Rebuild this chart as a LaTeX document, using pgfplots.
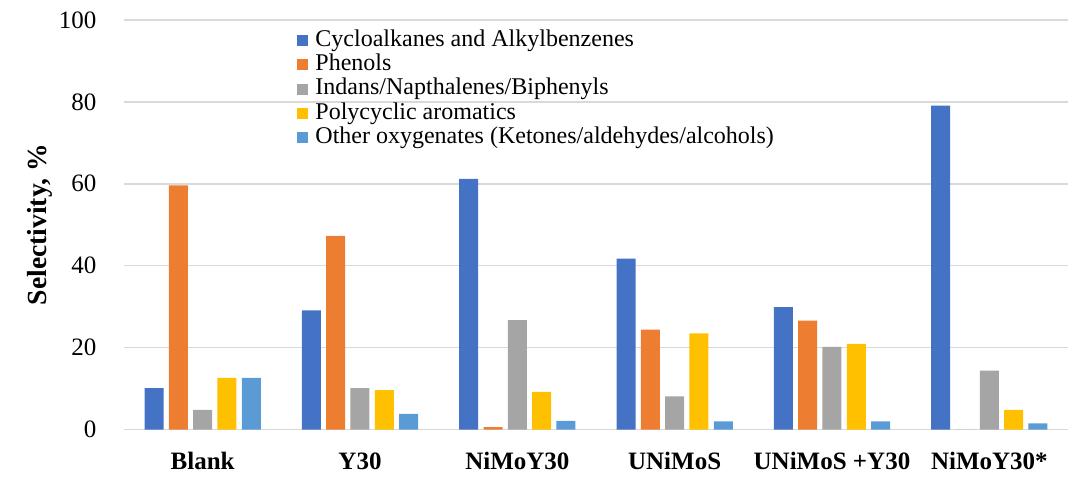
\documentclass[border=0pt]{standalone}
\usepackage{fontspec}
\setmainfont{Liberation Serif}
\usepackage{pgfplots}
\pgfplotsset{compat=1.18}

\definecolor{cBlue}{HTML}{4472C4}
\definecolor{cOrange}{HTML}{ED7D31}
\definecolor{cGray}{HTML}{A5A5A5}
\definecolor{cYellow}{HTML}{FFC000}
\definecolor{cLight}{HTML}{5B9BD5}
\definecolor{gridc}{HTML}{D9D9D9}

\begin{document}
\begin{tikzpicture}
\path[use as bounding box] (-62pt,-25.75pt) rectangle (478pt,214.75pt);
\begin{axis}[
	scale only axis,
	width=472pt, height=204.75pt,
	ybar=2.65pt, bar width=9.5pt,
	xmin=-0.5, xmax=5.5,
	ymin=0, ymax=100,
	xtick={0,1,2,3,4,5},
	xticklabels={Blank, Y30, NiMoY30, UNiMoS, UNiMoS +Y30, NiMoY30*},
	ytick={0,20,40,60,80,100},
	axis line style={draw=none},
	major tick length=0pt,
	tick style={draw=none},
	ymajorgrids, xmajorgrids=false,
	grid style={gridc, line width=0.75pt},
	/pgf/number format/assume math mode=true,
	tick label style={font=\fontsize{12.5}{15}\selectfont},
	yticklabel style={xshift=-10.3pt},
	xticklabel style={font=\fontsize{12.5}{15}\selectfont\bfseries, anchor=base, yshift=-19.75pt},
	ylabel={Selectivity, \%},
	ylabel style={at={(axis description cs:-0.089,0.5)}, anchor=center, font=\fontsize{13.8}{15}\selectfont\bfseries},
	legend cell align=left,
	legend style={at={(rel axis cs:0.1833,0.98)}, anchor=north west, draw=none, fill=none,
		inner sep=0pt, font=\fontsize{12}{12}\selectfont,
		nodes={text height=8.5pt, text depth=2.6pt, inner sep=0.3pt},
		/tikz/every odd column/.style={column sep=3.2pt},
		row sep=0.5pt},
	legend image code/.code={\path[#1, draw=none] (0pt,-2.75pt) rectangle (5.5pt,2.75pt);},
]
\addplot[fill=cBlue, draw=none] coordinates {(0,10.1) (1,29.1) (2,61.2) (3,41.7) (4,29.9) (5,79.1)};
\addplot[fill=cOrange, draw=none] coordinates {(0,59.6) (1,47.3) (2,0.6) (3,24.4) (4,26.6) (5,0)};
\addplot[fill=cGray, draw=none] coordinates {(0,4.8) (1,10.1) (2,26.7) (3,8.1) (4,20.2) (5,14.4)};
\addplot[fill=cYellow, draw=none] coordinates {(0,12.6) (1,9.6) (2,9.2) (3,23.5) (4,20.9) (5,4.8)};
\addplot[fill=cLight, draw=none] coordinates {(0,12.6) (1,3.8) (2,2.1) (3,2.0) (4,2.0) (5,1.5)};
\legend{Cycloalkanes and Alkylbenzenes, Phenols, Indans/Napthalenes/Biphenyls, Polycyclic aromatics, Other oxygenates (Ketones/aldehydes/alcohols)}
\end{axis}
\end{tikzpicture}
\end{document}
